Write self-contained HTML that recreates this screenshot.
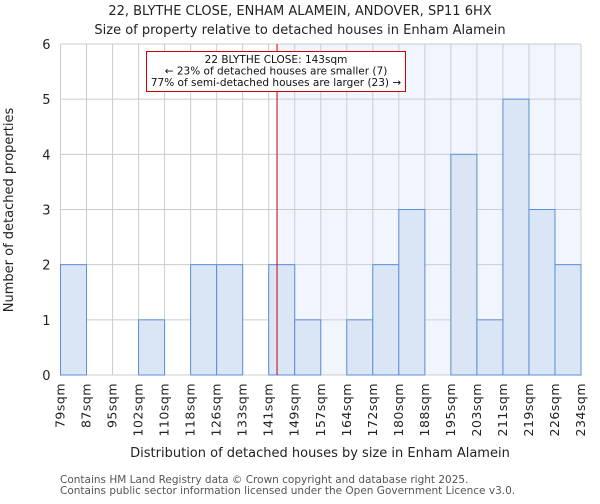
<!DOCTYPE html>
<html><head><meta charset="utf-8"><style>
body{margin:0;background:#fff;font-family:"DejaVu Sans","Liberation Sans",sans-serif}
</style></head><body>
<svg width="600" height="500" xmlns="http://www.w3.org/2000/svg" font-family="DejaVu Sans, Liberation Sans, sans-serif">
<g id="root"></g>
</svg>
<script>
const categories=["79sqm","87sqm","95sqm","102sqm","110sqm","118sqm","126sqm","133sqm","141sqm","149sqm","157sqm","164sqm","172sqm","180sqm","188sqm","195sqm","203sqm","211sqm","219sqm","226sqm","234sqm"];
const counts=[2,0,0,1,0,2,2,0,2,1,0,1,2,3,0,4,1,5,3,2];
const yTicks=[0,1,2,3,4,5,6];
const markerBin=8.32;
const L=60.5,R=581,T=44,B=375,YMAX=6;
const bw=(R-L)/counts.length;
const xs=i=>L+i*bw;
const ys=v=>B-(B-T)*v/YMAX;
const NS="http://www.w3.org/2000/svg";
const root=document.getElementById('root');
function mk(tag,attrs,text){const e=document.createElementNS(NS,tag);for(const k in attrs)e.setAttribute(k,attrs[k]);if(text!==undefined)e.textContent=text;root.appendChild(e);return e;}
const mx=xs(markerBin);
let e;
e=mk('rect',{x:mx,y:T,width:R-mx,height:B-T,fill:'#f1f5fd'});


for(let i=0;i<categories.length;i++){
 e=mk('line',{x1:xs(i),x2:xs(i),y1:T,y2:B,stroke:'#cccccc','stroke-width':1});
 
 
}
for(const t of yTicks){
 e=mk('line',{x1:L,x2:R,y1:ys(t),y2:ys(t),stroke:'#cccccc','stroke-width':1});
 
 
 e=mk('text',{x:L-10,y:ys(t)+5,'text-anchor':'end','font-size':13,fill:'#222'},t);
 
 
}
counts.forEach((c,i)=>{
 if(c>0){
  e=mk('rect',{x:xs(i),y:ys(c),width:bw,height:B-ys(c),fill:'#dae5f6',stroke:'#5b8fd9','stroke-width':1});
  
  
 }
});
categories.forEach((c,i)=>{
 const x=xs(i)+4;
 e=mk('text',{x:x,y:B+8,'text-anchor':'end','font-size':12.5,fill:'#222',transform:'rotate(-90 '+x+' '+(B+8)+')','letter-spacing':'0.5'},c);
 
 
});
e=mk('line',{x1:mx,x2:mx,y1:T,y2:B,stroke:'#cc0000','stroke-width':1});


e=mk('rect',{x:146.5,y:51.5,width:259,height:40,fill:'#fff',stroke:'#cc0000','stroke-width':1});


const ann=["22 BLYTHE CLOSE: 143sqm","← 23% of detached houses are smaller (7)","77% of semi-detached houses are larger (23) →"];
ann.forEach((s,i)=>{
 e=mk('text',{x:276,y:63+i*11.5,'text-anchor':'middle','font-size':10.5,fill:'#111'},s);
 
 
});
e=mk('text',{x:300,y:15,'text-anchor':'middle','font-size':13,fill:'#222'},"22, BLYTHE CLOSE, ENHAM ALAMEIN, ANDOVER, SP11 6HX");


e=mk('text',{x:300,y:34,'text-anchor':'middle','font-size':13,fill:'#222'},"Size of property relative to detached houses in Enham Alamein");


e=mk('text',{x:320,y:457,'text-anchor':'middle','font-size':13,fill:'#222'},"Distribution of detached houses by size in Enham Alamein");


e=mk('text',{x:13,y:210,'text-anchor':'middle','font-size':13,fill:'#222',transform:'rotate(-90 13 210)'},"Number of detached properties");


e=mk('text',{x:60,y:483,'font-size':10.5,fill:'#555'},"Contains HM Land Registry data © Crown copyright and database right 2025.");


e=mk('text',{x:60,y:494,'font-size':10.5,fill:'#555'},"Contains public sector information licensed under the Open Government Licence v3.0.");


</script>
</body></html>
